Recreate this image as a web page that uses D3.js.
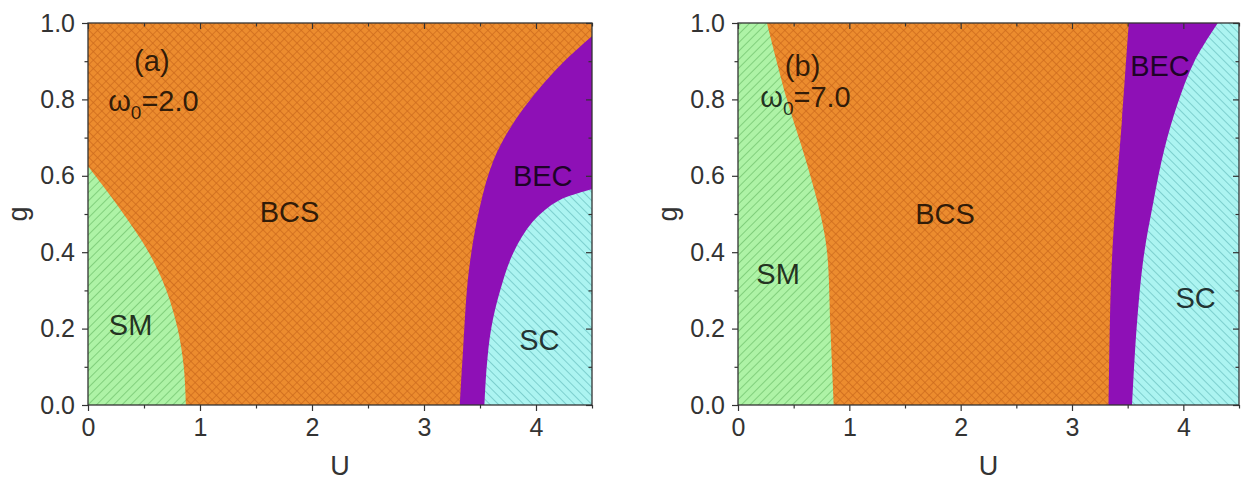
<!DOCTYPE html>
<html>
<head>
<meta charset="utf-8">
<script src="https://cdn.jsdelivr.net/npm/d3@7"></script>
<style>
  body { margin: 0; background: #fff; }
  text { font-family: "Liberation Sans", Arial, sans-serif; }
</style>
</head>
<body>
<div id="chart"></div>
<script>
// data: phase boundaries, as [U, g]
const uTicks = [0, 1, 2, 3, 4];
const gTicks = [0, 0.2, 0.4, 0.6, 0.8, 1.0];
const uMinor = [0.5, 1.5, 2.5, 3.5, 4.5];
const gMinor = [0.1, 0.3, 0.5, 0.7, 0.9];

// panel (a), omega0 = 2.0
const smA = [[0.875, 0], [0.855, 0.1], [0.80, 0.2], [0.70, 0.3], [0.56, 0.39], [0.40, 0.465], [0.22, 0.54], [0, 0.625]];
const becA = [[3.32, 0], [3.35, 0.15], [3.40, 0.35], [3.50, 0.52], [3.62, 0.64], [3.78, 0.73], [3.95, 0.80], [4.22, 0.89], [4.5, 0.965]];
const scA = [[3.54, 0], [3.56, 0.1], [3.60, 0.2], [3.68, 0.30], [3.80, 0.40], [3.97, 0.48], [4.2, 0.535], [4.5, 0.565]];

// panel (b), omega0 = 7.0
const smB = [[0.86, 0], [0.83, 0.2], [0.80, 0.40], [0.74, 0.50], [0.61, 0.64], [0.44, 0.8], [0.26, 1.0]];
const becB = [[3.33, 0], [3.35, 0.32], [3.39, 0.53], [3.45, 0.75], [3.51, 1.0]];
const scB = [[3.54, 0], [3.58, 0.2], [3.64, 0.38], [3.73, 0.53], [3.83, 0.67], [3.95, 0.79], [4.10, 0.90], [4.31, 1.0]];

// region labels [text, U, g]
const labelsA = [["BCS", 1.80, 0.505], ["BEC", 4.06, 0.60], ["SC", 4.03, 0.17], ["SM", 0.38, 0.21], ["(a)", 0.57, 0.90]];
const labelsB = [["BCS", 1.86, 0.50], ["BEC", 3.79, 0.887], ["SC", 4.11, 0.28], ["SM", 0.36, 0.343], ["(b)", 0.58, 0.887]];
const omegaA = ["2.0", 0.18, 0.77];
const omegaB = ["7.0", 0.20, 0.78];

const W = 1241, H = 484;
const svg = d3.select("#chart").append("svg").attr("width", W).attr("height", H);

// hatch patterns
const defs = svg.append("defs");
function hatch(id, base, line, size, angle, cross) {
  const p = defs.append("pattern").attr("id", id)
    .attr("patternUnits", "userSpaceOnUse")
    .attr("width", size).attr("height", size)
    .attr("patternTransform", `rotate(${angle})`);
  p.append("rect").attr("width", size).attr("height", size).attr("fill", base);
  p.append("path")
    .attr("d", cross ? `M0,0H${size}M0,0V${size}` : `M0,0V${size}`)
    .attr("stroke", line).attr("stroke-width", cross ? 1.4 : 1.8);
}
hatch("bcs", "#ec8c2e", "#cc6a1c", 6, 45, true);
hatch("sm", "#aef3a6", "#7ccb77", 6, 45, false);
hatch("sc", "#acf4f1", "#78cbca", 6, -45, false);

const y = d3.scaleLinear().domain([0, 1]).range([405, 23]);

function panel(x0, x1, sm, bec, sc, labels, omega) {
  const x = d3.scaleLinear().domain([0, 4.5]).range([x0, x1]);
  const g = svg.append("g");
  const line = d3.line().x(d => x(d[0])).y(d => y(d[1])).curve(d3.curveCatmullRom);
  const pt = (u, v) => `L${x(u)},${y(v)}`;

  g.append("rect").attr("x", x(0)).attr("y", y(1))
    .attr("width", x(4.5) - x(0)).attr("height", y(0) - y(1))
    .attr("fill", "url(#bcs)");

  // SM region: boundary then back along left edge
  const smTop = sm[sm.length - 1];
  g.append("path")
    .attr("d", line(sm) + (smTop[1] < 1 ? "" : pt(0, 1)) + pt(0, 0) + "Z")
    .attr("fill", "url(#sm)");

  const becTop = bec[bec.length - 1];
  g.append("path")
    .attr("d", line(bec) + (becTop[1] < 1 ? "" : pt(4.5, 1)) + pt(4.5, 0) + "Z")
    .attr("fill", "#8e10b6");

  const scTop = sc[sc.length - 1];
  g.append("path")
    .attr("d", line(sc) + (scTop[1] < 1 ? "" : pt(4.5, 1)) + pt(4.5, 0) + "Z")
    .attr("fill", "url(#sc)");

  // labels
  g.selectAll("text.lab").data(labels).join("text")
    .attr("class", "lab")
    .attr("x", d => x(d[1])).attr("y", d => y(d[2]))
    .attr("text-anchor", "middle").attr("dominant-baseline", "central")
    .attr("font-size", 29).attr("fill", "#000").attr("fill-opacity", 0.8)
    .text(d => d[0]);

  const om = g.append("text").attr("x", x(omega[1])).attr("y", y(omega[2]))
    .attr("font-size", 29).attr("fill", "#000").attr("fill-opacity", 0.8);
  om.append("tspan").text("ω");
  om.append("tspan").attr("font-size", 19).attr("dy", 8).text("0");
  om.append("tspan").attr("dy", -8).text("=" + omega[0]);

  // axes
  const fmt = d3.format(".1f");
  const axisStyle = sel => {
    sel.select(".domain").remove();
    sel.selectAll("line").attr("stroke", "#333").attr("stroke-width", 1.2);
    sel.selectAll("text").attr("font-size", 25).attr("fill", "#333");
  };
  g.append("g").attr("transform", `translate(0,${y(0)})`)
    .call(d3.axisBottom(x).tickValues(uTicks).tickSize(6).tickPadding(7).tickFormat(d3.format("d")))
    .call(axisStyle);
  g.append("g").attr("transform", `translate(0,${y(0)})`)
    .call(d3.axisBottom(x).tickValues(uMinor).tickSize(3.5).tickFormat(""))
    .call(axisStyle);
  g.append("g").attr("transform", `translate(${x(0)},0)`)
    .call(d3.axisLeft(y).tickValues(gTicks).tickSize(6).tickPadding(7).tickFormat(fmt))
    .call(axisStyle);
  g.append("g").attr("transform", `translate(${x(0)},0)`)
    .call(d3.axisLeft(y).tickValues(gMinor).tickSize(3.5).tickFormat(""))
    .call(axisStyle);
  // inward ticks on top and right
  g.append("g").attr("transform", `translate(0,${y(1)})`)
    .call(d3.axisBottom(x).tickValues(uTicks).tickSize(6).tickFormat(""))
    .call(axisStyle);
  g.append("g").attr("transform", `translate(0,${y(1)})`)
    .call(d3.axisBottom(x).tickValues(uMinor).tickSize(3.5).tickFormat(""))
    .call(axisStyle);
  g.append("g").attr("transform", `translate(${x(4.5)},0)`)
    .call(d3.axisLeft(y).tickValues(gTicks).tickSize(6).tickFormat(""))
    .call(axisStyle);
  g.append("g").attr("transform", `translate(${x(4.5)},0)`)
    .call(d3.axisLeft(y).tickValues(gMinor).tickSize(3.5).tickFormat(""))
    .call(axisStyle);

  g.append("rect").attr("x", x(0)).attr("y", y(1))
    .attr("width", x(4.5) - x(0)).attr("height", y(0) - y(1))
    .attr("fill", "none").attr("stroke", "#333").attr("stroke-width", 1.3);

  g.append("text").attr("x", (x0 + x1) / 2).attr("y", 466)
    .attr("text-anchor", "middle").attr("dominant-baseline", "central")
    .attr("font-size", 27).attr("fill", "#333").text("U");
  g.append("text")
    .attr("transform", `translate(${x0 - 70},${y(0.5)}) rotate(-90)`)
    .attr("text-anchor", "middle").attr("dominant-baseline", "central")
    .attr("font-size", 27).attr("fill", "#333").text("g");
}

panel(88, 592, smA, becA, scA, labelsA, omegaA);
panel(738, 1239, smB, becB, scB, labelsB, omegaB);
</script>
</body>
</html>
